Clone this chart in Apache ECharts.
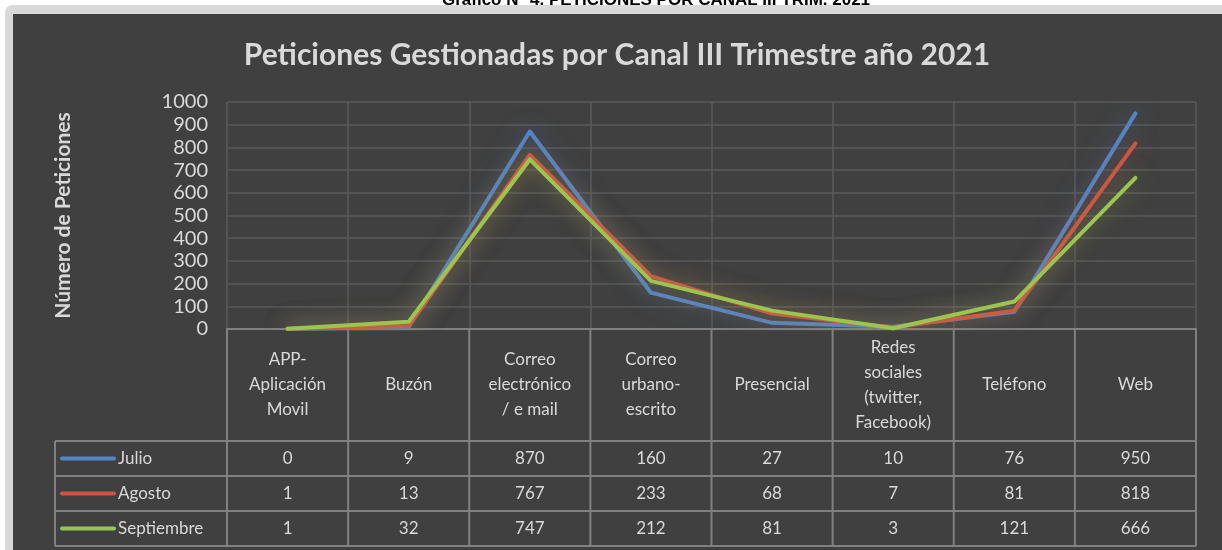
<!DOCTYPE html>
<html>
<head>
<meta charset="utf-8">
<title>Peticiones por canal</title>
<script src="https://cdn.jsdelivr.net/npm/echarts@6/dist/echarts.min.js"></script>
<style>
  html, body { margin: 0; padding: 0; background: #ffffff; }
  #chart { width: 1222px; height: 550px; }
</style>
</head>
<body>
<div id="chart"></div>
<script>
// categorias (encabezado de la tabla)
const canales = [
  'APP-\nAplicación\nMovil',
  'Buzón',
  'Correo\nelectrónico\n/ e mail',
  'Correo\nurbano-\nescrito',
  'Presencial',
  'Redes\nsociales\n(twitter,\nFacebook)',
  'Teléfono',
  'Web'
];
const meses = ['Julio', 'Agosto', 'Septiembre'];
const julio = [0, 9, 870, 160, 27, 10, 76, 950];
const agosto = [1, 13, 767, 233, 68, 7, 81, 818];
const septiembre = [1, 32, 747, 212, 81, 3, 121, 666];
const colores = ['#5585c6', '#cc5544', '#9bc54f'];

const datos = [julio, agosto, septiembre];
const fuente = 'Lato, "Open Sans", sans-serif';
const textoClaro = '#d9d9d9';
const gridColor = '#5a5a5a';
const tablaColor = '#808080';

const chart = echarts.init(document.getElementById('chart'));

const option = {
    backgroundColor: 'transparent',
    animation: false,
    textStyle: { fontFamily: fuente },
    grid: { left: 227, right: 26, top: 102, bottom: 221 },
    xAxis: {
        type: 'category',
        data: canales,
        boundaryGap: true,
        axisLabel: { show: false },
        axisTick: { show: false },
        axisLine: { show: true, lineStyle: { color: tablaColor, width: 2 } },
        splitLine: { show: true, lineStyle: { color: gridColor, width: 1.5 } }
    },
    yAxis: {
        type: 'value',
        min: 0,
        max: 1000,
        interval: 100,
        name: 'Número de Peticiones',
        nameLocation: 'middle',
        nameRotate: 90,
        nameGap: 153,
        nameTextStyle: { color: textoClaro, fontSize: 21, fontWeight: 'bold', fontFamily: fuente },
        axisLine: { show: false },
        axisTick: { show: false },
        axisLabel: { color: textoClaro, fontSize: 20, margin: 19, fontFamily: fuente,
            formatter: v => String(v) },
        splitLine: { show: true, lineStyle: { color: gridColor, width: 1.5 } }
    },
    series: meses.map((m, k) => ({
        name: m,
        type: 'line',
        data: datos[k],
        symbol: 'none',
        lineStyle: {
            color: colores[k],
            width: 4,
            cap: 'round',
            join: 'round',
            shadowBlur: 22,
            shadowColor: echarts.color.modifyAlpha(colores[k], 0.6)
        },
        itemStyle: { color: colores[k] },
        z: 3 + k
    }))
};

chart.setOption(option);

// tabla de datos debajo del grafico, posicionada con la escala del eje x
const buildTable = () => {
    const y0 = chart.convertToPixel({ yAxisIndex: 0 }, 0);
    const c0 = chart.convertToPixel({ xAxisIndex: 0 }, 0);
    const c1 = chart.convertToPixel({ xAxisIndex: 0 }, 1);
    const w = c1 - c0;
    const left = c0 - w / 2;
    const right = left + w * canales.length;
    const headerH = 112;
    const rowH = 35;
    const labelLeft = 55;
    const g = [];

    // marco de fondo
    g.push({ type: 'rect', z: -20, silent: true,
        shape: { x: 5, y: 5, width: 1240, height: 560, r: 8 },
        style: { fill: '#d9d9d9' } });
    g.push({ type: 'rect', z: -19, silent: true,
        shape: { x: 13, y: 14, width: 1230, height: 560 },
        style: { fill: '#404040' } });

    // titulo del documento (cortado por arriba)
    g.push({ type: 'text', z: 10, x: 656, y: 9,
        style: { text: 'Gráfico N° 4. PETICIONES POR CANAL III TRIM. 2021', fill: '#000',
            font: 'bold 17px "Liberation Sans", Arial, sans-serif', align: 'center',
            verticalAlign: 'bottom' } });

    // titulo del grafico
    g.push({ type: 'text', z: 10, x: 617, y: 55,
        style: { text: 'Peticiones Gestionadas por Canal III Trimestre año 2021', fill: textoClaro,
            font: 'bold 30px ' + fuente, align: 'center', verticalAlign: 'middle' } });

    const line = (x1, y1, x2, y2) => g.push({ type: 'line', z: 8, silent: true,
        shape: { x1, y1, x2, y2 }, style: { stroke: tablaColor, lineWidth: 2 } });

    const top = y0;
    const rowsTop = top + headerH;
    const bottom = rowsTop + rowH * meses.length;

    for (let i = 0; i <= canales.length; i++) {
        const x = left + i * w;
        line(x, top, x, bottom);
    }
    line(labelLeft, rowsTop, labelLeft, bottom);
    for (let r = 0; r <= meses.length; r++) {
        const y = rowsTop + r * rowH;
        line(labelLeft, y, right, y);
    }

    canales.forEach((c, i) => {
        const cx = chart.convertToPixel({ xAxisIndex: 0 }, i);
        g.push({ type: 'text', z: 9, x: cx, y: top + headerH / 2,
            style: { text: c, fill: textoClaro, font: '17px ' + fuente, lineHeight: 25,
                align: 'center', verticalAlign: 'middle' } });
        datos.forEach((serie, r) => {
            g.push({ type: 'text', z: 9, x: cx, y: rowsTop + r * rowH + rowH / 2,
                style: { text: String(serie[i]), fill: textoClaro, font: '17px ' + fuente,
                    align: 'center', verticalAlign: 'middle' } });
        });
    });

    meses.forEach((m, r) => {
        const cy = rowsTop + r * rowH + rowH / 2;
        g.push({ type: 'line', z: 9, silent: true,
            shape: { x1: 62, y1: cy, x2: 114, y2: cy },
            style: { stroke: colores[r], lineWidth: 4, lineCap: 'round' } });
        g.push({ type: 'text', z: 9, x: 118, y: cy,
            style: { text: m, fill: textoClaro, font: '17px ' + fuente,
                align: 'left', verticalAlign: 'middle' } });
    });

    chart.setOption({ graphic: g });
};

buildTable();
</script>
</body>
</html>
